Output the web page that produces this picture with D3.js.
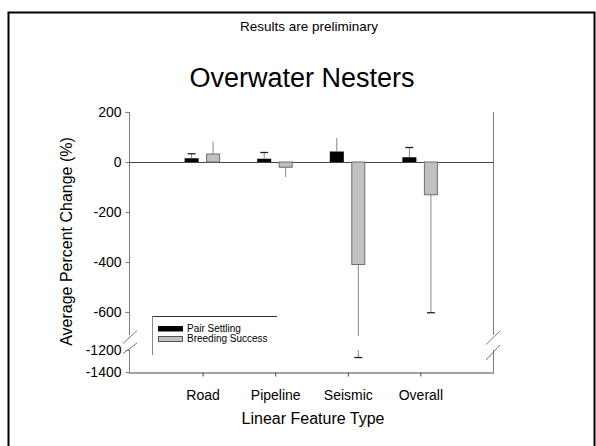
<!DOCTYPE html>
<html><head><meta charset="utf-8">
<script src="https://cdn.jsdelivr.net/npm/d3@7"></script>
<style>
html,body{margin:0;padding:0;background:#fff;}
svg{display:block;font-family:Arial,"Liberation Sans",sans-serif;}
</style></head>
<body>
<svg id="c" width="596" height="446"></svg>
<script>
// ---- data ----
const categories = ["Road", "Pipeline", "Seismic", "Overall"];
const seriesNames = ["Pair Settling", "Breeding Success"];
const pairSettling = [15, 13, 42, 19];
const pairSettlingErr = [35, 40, 96, 60];          // end of whisker
const breedingSuccess = [32, -21, -410, -131];
const breedingSuccessErr = [82, -60, -1264, -601];  // end of whisker
const pairCaps = [true, true, false, true];
const breedCaps = [false, false, true, true];
const upperTicks = [200, 0, -200, -400, -600];
const lowerTicks = [-1200, -1400];

const svg = d3.select("#c");

// frame
svg.append("rect").attr("x", 8.5).attr("y", 12.5).attr("width", 586).attr("height", 460)
  .attr("fill", "none").attr("stroke", "#000").attr("stroke-width", 2);

// titles
svg.append("text").attr("x", 309).attr("y", 31).attr("text-anchor", "middle")
  .attr("font-size", 13.5).text("Results are preliminary");
svg.append("text").attr("x", 302).attr("y", 87).attr("text-anchor", "middle")
  .attr("font-size", 27).text("Overwater Nesters");

// scales
const x = d3.scaleLinear().domain([0, 5]).range([130, 493]);
const yU = d3.scaleLinear().domain([-700, 200]).range([337, 112]);
const yL = d3.scaleLinear().domain([-1400, -1200]).range([372, 350]);
const upperBottom = 335, lowerTop = 350;
const axisCol = "#7a7a7a";

// axes (left)
const gU = svg.append("g").attr("transform", "translate(129.5,0)")
  .call(d3.axisLeft(yU).tickValues(upperTicks).tickSize(4).tickSizeOuter(0).tickFormat(d3.format("d")));
const gL = svg.append("g").attr("transform", "translate(129.5,0)")
  .call(d3.axisLeft(yL).tickValues(lowerTicks).tickSize(4).tickSizeOuter(0).tickFormat(d3.format("d")));
[gU, gL].forEach(g => {
  g.select(".domain").remove();
  g.selectAll("line").attr("stroke", axisCol);
  g.selectAll("text").attr("font-size", 14).attr("fill", "#000").attr("font-family", "Arial, 'Liberation Sans', sans-serif").attr("x", -8);
});
gU.selectAll("text").text(d => d < 0 ? "-" + Math.abs(d) : d);
gL.selectAll("text").text(d => "-" + Math.abs(d));

// axis lines
const line = (x1, y1, x2, y2, col, w) => svg.append("line")
  .attr("x1", x1).attr("y1", y1).attr("x2", x2).attr("y2", y2)
  .attr("stroke", col).attr("stroke-width", w || 1);
line(129.5, yU(200), 129.5, upperBottom, axisCol);
line(129.5, lowerTop, 129.5, yL(-1400), axisCol);
line(493.5, yU(200), 493.5, upperBottom, axisCol);
line(493.5, lowerTop, 493.5, yL(-1400), axisCol);
// break marks
line(123, 343.5, 137, 330.5, axisCol);
line(123, 353.5, 137, 343, axisCol);
line(486, 344.5, 500, 331, axisCol);
line(486, 360, 500, 345, axisCol);

// bottom axis
const gX = svg.append("g").attr("transform", `translate(0,${yL(-1400) + 0.5})`)
  .call(d3.axisBottom(x).tickValues([1, 2, 3, 4]).tickSize(4).tickSizeOuter(0)
    .tickFormat(d => categories[d - 1]));
gX.select(".domain").attr("stroke", "#444").attr("d", `M129,0.5H494`);
gX.selectAll("line").attr("stroke", "#444");
gX.selectAll("text").attr("font-size", 14).attr("fill", "#000").attr("y", 18)
  .attr("font-family", "Arial, 'Liberation Sans', sans-serif");

// axis titles
svg.append("text").attr("transform", "translate(72,241.5) rotate(-90)").attr("text-anchor", "middle")
  .attr("font-size", 16).text("Average Percent Change (%)");
svg.append("text").attr("x", 313).attr("y", 424).attr("text-anchor", "middle")
  .attr("font-size", 16).text("Linear Feature Type");

// zero line
line(129.5, yU(0) + 0.5, 493.5, yU(0) + 0.5, "#444");

const barW = 14;
const bars = svg.append("g");
const errs = svg.append("g");

function whisker(cx, from, to, cap) {
  // from/to are values; handle broken axis
  if (to >= -700) {
    line(cx, yU(from), cx, yU(to), "#888");
    if (cap) line(cx - 4, yU(to) + 0.5, cx + 4, yU(to) + 0.5, "#222", 1.3);
  } else {
    line(cx, yU(from), cx, upperBottom + 1, "#888");
    line(cx, lowerTop, cx, yL(to), "#888");
    if (cap) line(cx - 4, yL(to) + 0.5, cx + 4, yL(to) + 0.5, "#222", 1.3);
  }
}

categories.forEach((c, i) => {
  const cx = x(i + 1);
  // pair settling (black)
  const v1 = pairSettling[i];
  const bx1 = cx - 18;
  whisker(bx1 + barW / 2, v1, pairSettlingErr[i], pairCaps[i]);
  bars.append("rect").attr("x", bx1).attr("width", barW)
    .attr("y", yU(Math.max(0, v1))).attr("height", Math.abs(yU(v1) - yU(0)))
    .attr("fill", "#000");
  // breeding success (gray)
  const v2 = breedingSuccess[i];
  const bx2 = cx + 3.5;
  whisker(bx2 + barW / 2, v2, breedingSuccessErr[i], breedCaps[i]);
  svg.append("rect").attr("x", bx2 + 0.5).attr("width", barW - 1)
    .attr("y", yU(Math.max(0, v2))).attr("height", Math.abs(yU(v2) - yU(0)))
    .attr("fill", "#c0c0c0").attr("stroke", "#6e6e6e").attr("stroke-width", 1);
});

// legend
const lg = svg.append("g");
line(152, 316.5, 277, 316.5, "#333");
line(152.5, 316.5, 152.5, 355, "#888");
lg.append("rect").attr("x", 158).attr("y", 326).attr("width", 25).attr("height", 5.5).attr("fill", "#000");
lg.append("rect").attr("x", 158.5).attr("y", 336.5).attr("width", 24).attr("height", 5)
  .attr("fill", "#c0c0c0").attr("stroke", "#555").attr("stroke-width", 1);
lg.append("text").attr("x", 187).attr("y", 332).attr("font-size", 10).text(seriesNames[0]);
lg.append("text").attr("x", 187).attr("y", 342).attr("font-size", 10).text(seriesNames[1]);
</script>
</body></html>
